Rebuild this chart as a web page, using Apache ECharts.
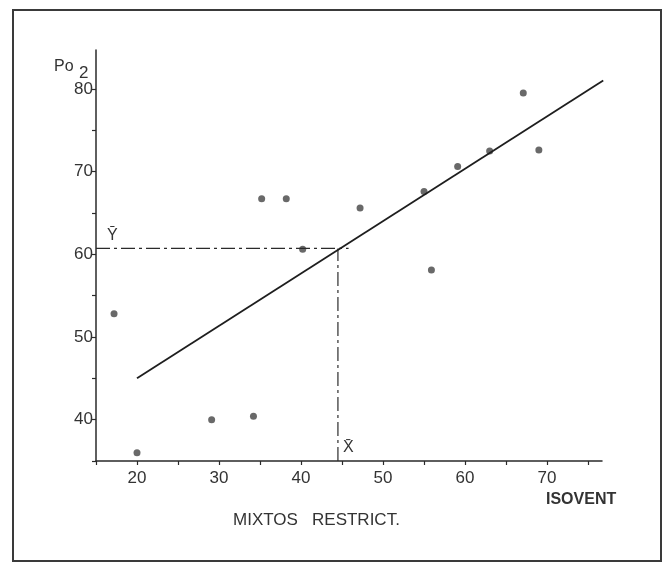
<!DOCTYPE html>
<html>
<head>
<meta charset="utf-8">
<script src="https://cdn.jsdelivr.net/npm/echarts@6/dist/echarts.min.js"></script>
<style>
    html, body { margin: 0; padding: 0; background: #fff; }
    #chart { width: 668px; height: 564px; }
</style>
</head>
<body>
<div id="chart"></div>
<script>
// valores
var isoventX = [17.2, 20, 29.1, 34.2, 35.2, 38.2, 40.2, 47.2, 55, 55.9, 59.1, 63, 67.1, 69];
var po2Y = [52.8, 36, 40, 40.4, 66.7, 66.7, 60.6, 65.6, 67.6, 58.1, 70.6, 72.5, 79.5, 72.6];
var regLine = [[20, 45], [76.85, 81]];
var meanX = 44.5, meanY = 60.7;
var xRange = [15, 76.7], yRange = [35, 84.7];

var chart = echarts.init(document.getElementById('chart'));
var ink = '#2a2a2a';
var font = 'Liberation Sans, Arial, sans-serif';

var points = isoventX.map(function (x, i) { return [x, po2Y[i]]; });

var tenOnly = function (v) { return v % 10 === 0 ? String(v) : ''; };

var option = {
    animation: false,
    backgroundColor: '#fff',
    grid: { left: 96, right: 66, top: 50, bottom: 103 },
    xAxis: {
        type: 'value', min: xRange[0], max: xRange[1], interval: 5,
        splitLine: { show: false },
        axisLine: { onZero: false, lineStyle: { color: ink, width: 1.5 } },
        axisTick: { length: 4, lineStyle: { color: ink, width: 1.2 } },
        axisLabel: { formatter: tenOnly, color: '#333', fontSize: 17, fontFamily: font, margin: 9, showMaxLabel: false }
    },
    yAxis: {
        type: 'value', min: yRange[0], max: yRange[1], interval: 5,
        splitLine: { show: false },
        axisLine: { onZero: false, lineStyle: { color: ink, width: 1.5 } },
        axisTick: { length: 4, lineStyle: { color: ink, width: 1.2 } },
        axisLabel: { formatter: tenOnly, color: '#333', fontSize: 17, fontFamily: font, margin: 3, showMaxLabel: false }
    },
    series: [
        {
            // media Y
            type: 'line', silent: true, symbol: 'none',
            data: [[xRange[0], meanY], [meanX + 1.3, meanY]],
            lineStyle: { color: ink, width: 1.2, type: [14, 4, 3, 4] }
        },
        {
            // media X
            type: 'line', silent: true, symbol: 'none',
            data: [[meanX, yRange[0]], [meanX, meanY]],
            lineStyle: { color: ink, width: 1.2, type: [14, 4, 3, 4] }
        },
        {
            type: 'line', silent: true, symbol: 'none',
            data: regLine,
            lineStyle: { color: '#1e1e1e', width: 1.8 }
        },
        {
            type: 'scatter', symbolSize: 7,
            data: points,
            itemStyle: { color: '#444' }
        }
    ],
    graphic: [
        {
            type: 'rect', shape: { x: 13, y: 10, width: 648, height: 551 },
            style: { fill: 'none', stroke: '#3a3a3a', lineWidth: 2 }
        },
        { type: 'text', left: 54, top: 59, style: { text: 'Po', font: '16px ' + font, fill: '#333' } },
        { type: 'text', left: 79, top: 65, style: { text: '2', font: '17px ' + font, fill: '#333' } },
        { type: 'text', left: 107, top: 228, style: { text: 'Ȳ', font: '16px ' + font, fill: '#333' } },
        { type: 'text', left: 343, top: 440, style: { text: 'X̄', font: '16px ' + font, fill: '#333' } },
        { type: 'text', left: 546, top: 492, style: { text: 'ISOVENT', font: 'bold 16px ' + font, fill: '#333' } },
        { type: 'text', left: 233, top: 512, style: { text: 'MIXTOS   RESTRICT.', font: '17px ' + font, fill: '#333' } }
    ]
};
chart.setOption(option);
</script>
</body>
</html>
